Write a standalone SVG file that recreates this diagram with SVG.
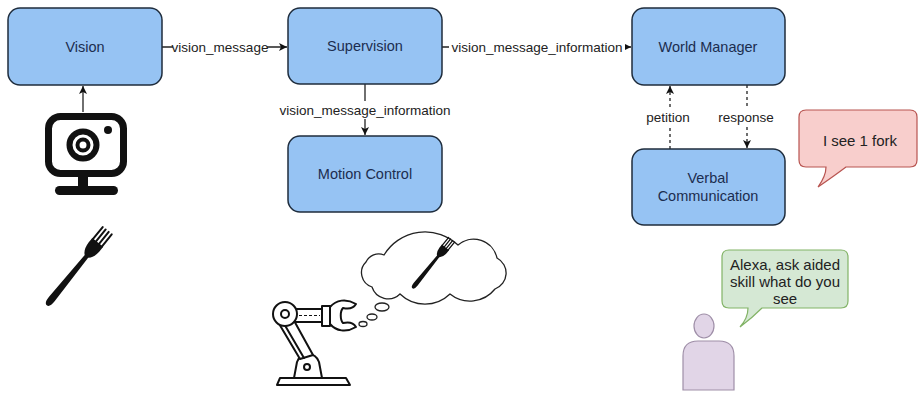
<svg xmlns="http://www.w3.org/2000/svg" width="918" height="405" viewBox="0 0 918 405">
  <style>
    .node rect { fill: #96c3f3; stroke: #1f2d3d; stroke-width: 1.5; }
    .node text { font-family: "Liberation Sans", Arial, sans-serif; font-size: 14.5px; fill: #1c2d4f; text-anchor: middle; dominant-baseline: central; }
    .edge { stroke: #222; stroke-width: 1.3; fill: none; }
    .dash { stroke-dasharray: 3 3; }
    .lbl { font-family: "Liberation Sans", Arial, sans-serif; font-size: 13.5px; fill: #222; text-anchor: middle; dominant-baseline: central; }
    .lblbg { fill: #ffffff; }
    .say { font-family: "Liberation Sans", Arial, sans-serif; font-size: 15px; fill: #222; text-anchor: middle; dominant-baseline: central; }
    .ink { fill: none; stroke: #111; stroke-width: 2; stroke-linejoin: round; stroke-linecap: round; }
    .inkw { fill: #fff; stroke: #111; stroke-width: 2; stroke-linejoin: round; }
  </style>
  <defs>
    <marker id="arrow" markerWidth="9" markerHeight="8" refX="8" refY="4" orient="auto" markerUnits="userSpaceOnUse">
      <path d="M0,0 L8,4 L0,8 L2,4 Z" fill="#111"/>
    </marker>
    <!-- fork, tines pointing up, centred on the origin -->
    <g id="fork">
      <path d="M-7,-33 L7,-33 L7,-27 Q6.5,-18 2.2,-15 L3.6,40 Q3.6,48 0,48 Q-3.6,48 -3.6,40 L-2.2,-15 Q-6.5,-18 -7,-27 Z" fill="#111"/>
      <g stroke="#111" stroke-width="2" stroke-linecap="round">
        <line x1="-5.8" y1="-48" x2="-5.8" y2="-32"/>
        <line x1="-1.95" y1="-48" x2="-1.95" y2="-32"/>
        <line x1="1.95" y1="-48" x2="1.95" y2="-32"/>
        <line x1="5.8" y1="-48" x2="5.8" y2="-32"/>
      </g>
    </g>
  </defs>

  <rect width="918" height="405" fill="#ffffff"/>

  <!-- connectors -->
  <g id="connectors">
    <line class="edge" x1="162" y1="47" x2="287" y2="47" marker-end="url(#arrow)"/>
    <rect class="lblbg" x="173" y="38" width="94" height="18"/>
    <text class="lbl" x="220" y="47">vision_message</text>

    <line class="edge" x1="442" y1="47" x2="631" y2="47" marker-end="url(#arrow)"/>
    <rect class="lblbg" x="449" y="38" width="176" height="18"/>
    <text class="lbl" x="537" y="47">vision_message_information</text>

    <line class="edge" x1="365" y1="84" x2="365" y2="135" marker-end="url(#arrow)"/>
    <rect class="lblbg" x="277" y="101" width="176" height="18"/>
    <text class="lbl" x="365" y="110">vision_message_information</text>

    <line class="edge" x1="83" y1="112" x2="83" y2="86" marker-end="url(#arrow)"/>

    <line class="edge dash" x1="670" y1="149" x2="670" y2="86" marker-end="url(#arrow)"/>
    <rect class="lblbg" x="645" y="108" width="46" height="18"/>
    <text class="lbl" x="668" y="117">petition</text>

    <line class="edge dash" x1="747" y1="85" x2="747" y2="148" marker-end="url(#arrow)"/>
    <rect class="lblbg" x="717" y="108" width="59" height="18"/>
    <text class="lbl" x="746" y="117">response</text>
  </g>

  <!-- nodes -->
  <g id="vision" class="node">
    <rect x="8" y="8" width="154" height="77" rx="12"/>
    <text x="85" y="47">Vision</text>
  </g>
  <g id="supervision" class="node">
    <rect x="288" y="8" width="154" height="76" rx="12"/>
    <text x="365" y="46">Supervision</text>
  </g>
  <g id="motion-control" class="node">
    <rect x="288" y="136" width="154" height="76" rx="12"/>
    <text x="365" y="174">Motion Control</text>
  </g>
  <g id="world-manager" class="node">
    <rect x="632" y="8" width="153" height="77" rx="12"/>
    <text x="708" y="47">World Manager</text>
  </g>
  <g id="verbal-communication" class="node">
    <rect x="632" y="149" width="153" height="76" rx="12"/>
    <text x="708" y="178">Verbal</text>
    <text x="708" y="196">Communication</text>
  </g>

  <!-- webcam -->
  <g id="camera">
    <rect x="48.5" y="116.5" width="75" height="57" rx="12" fill="none" stroke="#111" stroke-width="7"/>
    <circle cx="83" cy="145" r="13.5" fill="none" stroke="#111" stroke-width="6"/>
    <circle cx="83" cy="145" r="5.5" fill="none" stroke="#111" stroke-width="4"/>
    <circle cx="108" cy="130" r="4" fill="#111"/>
    <rect x="78" y="176" width="10" height="11" fill="#111"/>
    <rect x="55" y="186" width="63" height="9" rx="4.5" fill="#111"/>
  </g>

  <!-- fork -->
  <g id="fork-object">
    <use href="#fork" transform="translate(77,268) rotate(39)"/>
  </g>

  <!-- robot arm -->
  <g id="robot">
    <path class="inkw" d="M277,385 L280,378 L346,378 L350,385 Z"/>
    <path class="inkw" d="M294,378 L297,362 Q300,354 308,354 Q316,354 319,362 L322,378 Z"/>
    <circle class="inkw" cx="307" cy="367" r="3"/>
    <path class="inkw" d="M278,322 L292,317 L313,355 L300,359 Z"/>
    <line class="ink" x1="283" y1="322" x2="304" y2="358"/>
    <rect class="inkw" x="294" y="309" width="28" height="13"/>
    <line x1="299" y1="315.5" x2="320" y2="315.5" stroke="#111" stroke-width="1.2" stroke-dasharray="3 2"/>
    <circle class="inkw" cx="285" cy="314" r="12"/>
    <circle class="inkw" cx="285" cy="314" r="4"/>
    <rect class="inkw" x="322" y="306" width="8" height="20"/>
    <path class="inkw" d="M330,307 C336,300 346,298 356,304 C353,309 347,309 343,308 C340,311 340,320 343,323 C347,322 353,322 356,327 C346,333 336,331 330,324 Z"/>
  </g>

  <!-- thought cloud -->
  <g id="thought">
    <ellipse cx="382" cy="307" rx="7" ry="4" fill="#fff" stroke="#222" stroke-width="1.3"/>
    <ellipse cx="372" cy="317" rx="5" ry="3" fill="#fff" stroke="#222" stroke-width="1.3"/>
    <ellipse cx="363" cy="324" rx="4" ry="2.5" fill="#fff" stroke="#222" stroke-width="1.3"/>
    <path d="M372,287 A15,15 0 0 1 366,262 A14,14 0 0 1 384,255 A48,48 0 0 1 458,245 A24,24 0 0 1 497,258 A17,17 0 0 1 495,289 A32,32 0 0 1 450,294 A36,36 0 0 1 400,294 A17,17 0 0 1 372,287 Z" fill="#fff" stroke="#222" stroke-width="1.3"/>
    <use href="#fork" transform="translate(432,264) rotate(39) scale(0.65)"/>
  </g>

  <!-- speech bubbles -->
  <g id="reply-bubble">
    <path d="M806,110 H910 Q917,110 917,117 V160 Q917,167 910,167 H846 Q834,176 818,187 Q826,176 826,167 H806 Q799,167 799,160 V117 Q799,110 806,110 Z" fill="#f8cecc" stroke="#b85450" stroke-width="1.2"/>
    <text class="say" x="860" y="140">I see 1 fork</text>
  </g>
  <g id="request-bubble">
    <path d="M729,250 H841 Q848,250 848,257 V301 Q848,308 841,308 H762 Q752,318 740,327 Q748,318 748,308 H729 Q722,308 722,301 V257 Q722,250 729,250 Z" fill="#d5e8d4" stroke="#82b366" stroke-width="1.2"/>
    <text class="say" x="785" y="264">Alexa, ask aided</text>
    <text class="say" x="785" y="281">skill what do you</text>
    <text class="say" x="785" y="298">see</text>
  </g>

  <!-- user -->
  <g id="user">
    <path d="M683,390 V356 Q683,341 698,341 H719 Q734,341 734,356 V390 Z" fill="#e1d5e7" stroke="#9f8fa8" stroke-width="1.2"/>
    <ellipse cx="704" cy="326" rx="10" ry="12" fill="#e1d5e7" stroke="#9f8fa8" stroke-width="1.2"/>
  </g>
</svg>
